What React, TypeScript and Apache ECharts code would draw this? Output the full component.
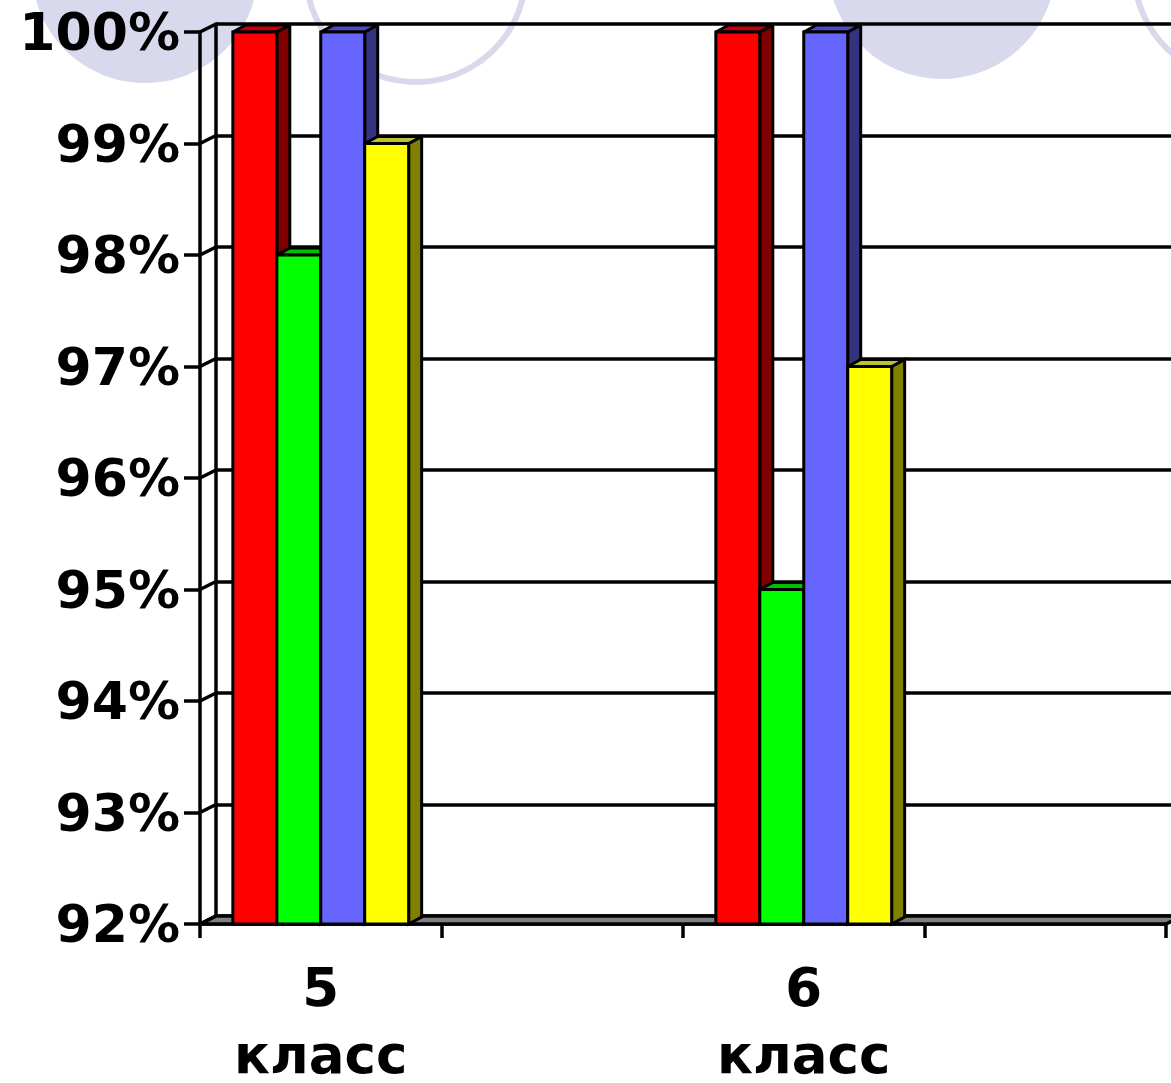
import React, { useEffect, useRef } from "react";
import * as echarts from "echarts";

const categories = ["5\nкласс", "", "6\nкласс", ""];
const redValues = [100, null, 100, null];
const greenValues = [98, null, 95, null];
const blueValues = [100, null, 100, null];
const yellowValues = [99, null, 97, null];
const yTicks = [92, 93, 94, 95, 96, 97, 98, 99, 100];

const Y_MIN = 92;
const Y_MAX = 100;
const BAR_FRAC = 0.182;
const DEPTH_X = 13;
const DEPTH_Y = 7;
const WALL_X = 16;
const WALL_Y = 8;

const seriesDefs = [
  { name: "A", values: redValues, front: "#ff0000", side: "#800000", top: "#c40000" },
  { name: "B", values: greenValues, front: "#00ff00", side: "#008000", top: "#00c000" },
  { name: "C", values: blueValues, front: "#6666ff", side: "#333380", top: "#4c4cc0" },
  { name: "D", values: yellowValues, front: "#ffff00", side: "#808000", top: "#c0c030" },
];

const FONT = "DejaVu Sans";
const LW = 3.5;

export default function App() {
  const ref = useRef<HTMLDivElement>(null);
  useEffect(() => {
    if (!ref.current) return;
    const chart = echarts.init(ref.current, null, { renderer: "svg" });

    const barSeries = seriesDefs.map((s, idx) => ({
      type: "custom",
      name: s.name,
      xAxisIndex: 0,
      yAxisIndex: 0,
      z: 5,
      clip: false,
      data: s.values
        .map((v, i) => (v == null ? null : [i, v]))
        .filter((d) => d !== null),
      renderItem: (params: any, api: any) => {
        const ci = api.value(0);
        const v = api.value(1);
        const bw = api.size([1, 0])[0];
        const c = api.coord([ci, v]);
        const b = api.coord([ci, Y_MIN]);
        const w = bw * BAR_FRAC;
        const x0 = c[0] - bw / 2 + (bw * (1 - 4 * BAR_FRAC)) / 2 + idx * w;
        const x1 = x0 + w;
        const yt = c[1];
        const yb = b[1];
        const stroke = { stroke: "#000", lineWidth: 3, lineJoin: "miter" };
        return {
          type: "group",
          children: [
            {
              type: "polygon",
              shape: { points: [[x1, yt], [x1 + DEPTH_X, yt - DEPTH_Y], [x1 + DEPTH_X, yb - DEPTH_Y], [x1, yb]] },
              style: { fill: s.side, ...stroke },
            },
            {
              type: "polygon",
              shape: { points: [[x0, yt], [x0 + DEPTH_X, yt - DEPTH_Y], [x1 + DEPTH_X, yt - DEPTH_Y], [x1, yt]] },
              style: { fill: s.top, ...stroke },
            },
            {
              type: "rect",
              shape: { x: x0, y: yt, width: w, height: yb - yt },
              style: { fill: s.front, ...stroke },
            },
          ],
        };
      },
    }));

    const frameSeries = {
      type: "custom",
      name: "frame",
      xAxisIndex: 0,
      yAxisIndex: 0,
      z: 3,
      clip: false,
      silent: true,
      data: yTicks.map((t) => [0, t]),
      renderItem: (params: any, api: any) => {
        const v = api.value(1);
        const bw = api.size([1, 0])[0];
        const c = api.coord([0, v]);
        const xl = c[0] - bw / 2;
        const y = c[1];
        const children: any[] = [];
        if (v === Y_MIN) {
          const xr = api.coord([categories.length - 1, v])[0] + bw / 2;
          children.push({
            type: "polygon",
            shape: { points: [[xl, y], [xr, y], [xr + WALL_X, y - WALL_Y], [xl + WALL_X, y - WALL_Y]] },
            style: { fill: "#808080", stroke: "#000", lineWidth: LW },
          });
        }
        children.push({
          type: "line",
          shape: { x1: xl, y1: y, x2: xl + WALL_X, y2: y - WALL_Y },
          style: { stroke: "#000", lineWidth: LW },
        });
        return { type: "group", children };
      },
    };

    const circleColor = "#d9d9ee";
    const labelFont = { color: "#000", fontFamily: FONT, fontWeight: "bold", fontSize: 53 };
    chart.setOption({
      animation: false,
      backgroundColor: "#ffffff",
      graphic: [
        { type: "circle", z: -10, shape: { cx: 145, cy: -30, r: 113 }, style: { fill: circleColor } },
        { type: "circle", z: -10, shape: { cx: 416, cy: -28, r: 110 }, style: { fill: "none", stroke: circleColor, lineWidth: 6 } },
        { type: "circle", z: -10, shape: { cx: 942, cy: -35, r: 114 }, style: { fill: circleColor } },
        { type: "circle", z: -10, shape: { cx: 1244, cy: -30, r: 110 }, style: { fill: "none", stroke: circleColor, lineWidth: 6 } },
      ],
      grid: [
        { left: 200, top: 32, width: 966, height: 892, outerBoundsMode: "none", containLabel: false },
        { left: 200 + WALL_X, top: 32 - WALL_Y, width: 966, height: 892, outerBoundsMode: "none", containLabel: false },
      ],
      xAxis: [
        {
          type: "category",
          gridIndex: 0,
          data: categories,
          boundaryGap: true,
          axisLine: { show: true, lineStyle: { color: "#000", width: LW } },
          axisTick: { show: true, length: 14, lineStyle: { color: "#000", width: LW } },
          axisLabel: {
            interval: 0,
            margin: 16,
            ...labelFont,
            formatter: (val: string) =>
              val ? val.split("\n").map((s, i) => `{l${i}|${s}}`).join("\n") : "",
            rich: {
              l0: { ...labelFont, lineHeight: 94 },
              l1: { ...labelFont, lineHeight: 40 },
            },
          },
          splitLine: { show: false },
        },
        {
          type: "category",
          gridIndex: 1,
          data: categories,
          show: false,
        },
      ],
      yAxis: [
        {
          type: "value",
          gridIndex: 0,
          min: Y_MIN,
          max: Y_MAX,
          interval: 1,
          axisLine: { show: true, lineStyle: { color: "#000", width: LW } },
          axisTick: { show: true, length: 16, lineStyle: { color: "#000", width: LW } },
          axisLabel: {
            formatter: (v: number) => `${v}%`,
            color: "#000",
            fontFamily: FONT,
            fontWeight: "bold",
            fontSize: 52,
            margin: 20,
            padding: [8, 0, 0, 0],
          },
          splitLine: { show: false },
        },
        {
          type: "value",
          gridIndex: 1,
          min: Y_MIN,
          max: Y_MAX,
          interval: 1,
          axisLine: { show: true, lineStyle: { color: "#000", width: LW } },
          axisTick: { show: false },
          axisLabel: { show: false },
          splitLine: { show: true, lineStyle: { color: "#000", width: LW } },
        },
      ],
      series: [frameSeries, ...barSeries],
    });
    return () => chart.dispose();
  }, []);
  return (
    <div
      ref={ref}
      style={{ position: "absolute", left: 0, top: 0, width: 1171, height: 1083 }}
    />
  );
}
